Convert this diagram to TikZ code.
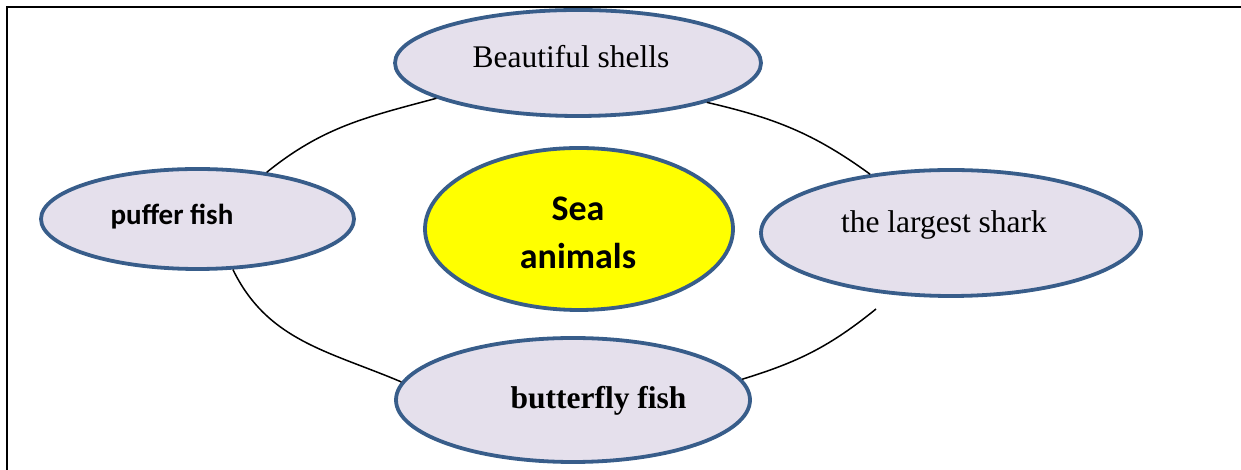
\documentclass[tikz,border=0pt]{standalone}
\usepackage{fontspec}
\setmainfont{Liberation Serif}
\newfontfamily\calib{Carlito}
\usetikzlibrary{shapes.geometric}
\definecolor{edgeblue}{HTML}{385D8A}
\definecolor{lav}{HTML}{E5E0EC}
\definecolor{seayellow}{HTML}{FFFF00}
\begin{document}
\begin{tikzpicture}[x=1pt,y=1pt,
  bubble/.style={ellipse, draw=edgeblue, line width=3.8pt, fill=lav, inner sep=0pt},
  link/.style={line width=1.5pt, black},
  serif/.style={font=\fontsize{31.5}{38}\selectfont, inner sep=0pt, anchor=base},
  serifbold/.style={font=\bfseries\fontsize{31.5}{38}\selectfont, inner sep=0pt, anchor=base},
  sansbold/.style={font=\calib\bfseries\fontsize{29}{35}\selectfont, inner sep=0pt, anchor=base},
  frame/.style={line width=2.5pt, black}]
\useasboundingbox (0,0) rectangle (1241,470);
\draw[frame] (7,0) -- (7,463) -- (1241,463);

\node[bubble, minimum width=366pt, minimum height=106pt] (shells) at (578,407) {};
\node[bubble, fill=seayellow, minimum width=308pt, minimum height=162pt] (sea) at (579,241) {};
\node[bubble, minimum width=313pt, minimum height=100pt] (puffer) at (197.5,251) {};
\node[bubble, minimum width=380pt, minimum height=126pt] (shark) at (951,237) {};
\node[bubble, minimum width=354pt, minimum height=124pt] (butterfly) at (573,70) {};

\node[serif] (tshells) at ([shift={(-7,-5)}]shells.center) {Beautiful shells};
\node[serif] (tshark) at ([shift={(-7,0)}]shark.center) {the largest shark};
\node[serifbold] (tbutter) at ([shift={(25.5,-9)}]butterfly.center) {butterfly fish};
\node[sansbold] (tpuffer) at ([shift={(-25.5,-6)}]puffer.center) {puffer fish};
\node[align=center, inner sep=0pt, font=\calib\bfseries\fontsize{36}{48}\selectfont] (tsea) at ([shift={(-1,-3.5)}]sea.center) {Sea\\animals};

\coordinate (free) at (876,161);
\draw[link] (puffer.34) to[out=39,in=195] (shells.194);
\draw[link] (shells.-17) to[out=-13,in=144] (shark.144);
\draw[link] (free) to[out=219,in=17] (butterfly.7);
\draw[link] (butterfly.174) to[out=157,in=-64] (puffer.-55);
\end{tikzpicture}
\end{document}
